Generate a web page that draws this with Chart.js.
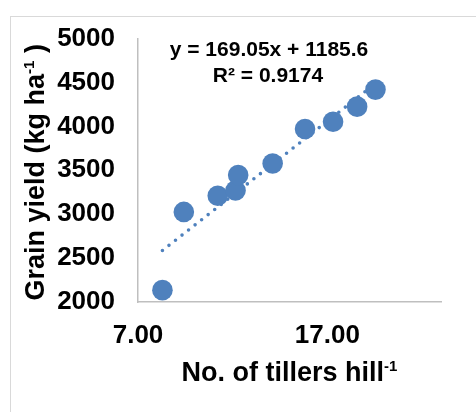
<!DOCTYPE html>
<html>
<head>
<meta charset="utf-8">
<script src="https://cdn.jsdelivr.net/npm/chart.js@4/dist/chart.umd.min.js"></script>
<style>
  html, body { margin: 0; padding: 0; background: #fff; }
  #wrap { width: 476px; height: 412px; position: relative; }
</style>
</head>
<body>
<div id="wrap"><canvas id="c" width="476" height="412"></canvas></div>
<script>
// ---- data ----
const tillers = [8.29, 9.42, 11.21, 12.15, 12.29, 14.11, 15.82, 17.30, 18.57, 19.54];
const grainYield = [2135, 3026, 3210, 3270, 3446, 3577, 3970, 4053, 4225, 4419];
const trendSlope = [169.05];
const trendIntercept = [1185.6];
const xTickValues = [7, 17];
const yTickValues = [2000, 2500, 3000, 3500, 4000, 4500, 5000];
const equationLines = ['y = 169.05x + 1185.6', 'R\u00B2 = 0.9174'];
const xTitleParts = ['No. of tillers hill', '-1', ''];
const yTitleParts = ['Grain yield (kg ha', '-1', ' )'];

const FONT = "'Liberation Sans', Arial, Helvetica, sans-serif";
const BLUE = '#4F81BD';

const points = tillers.map((x, i) => ({ x, y: grainYield[i] }));
const xMin = Math.min(...tillers), xMax = Math.max(...tillers);
const trend = [xMin, xMax].map(x => ({ x, y: trendSlope[0] * x + trendIntercept[0] }));

function drawSup(ctx, parts, cx, baseline, size, supSize, rise) {
  const [main, sup, tail] = parts;
  ctx.font = `bold ${size}px ${FONT}`;
  const w1 = ctx.measureText(main).width;
  const w3 = ctx.measureText(tail).width;
  ctx.font = `bold ${supSize}px ${FONT}`;
  const w2 = ctx.measureText(sup).width;
  let x = cx - (w1 + w2 + w3) / 2;
  ctx.textAlign = 'left';
  ctx.textBaseline = 'alphabetic';
  ctx.font = `bold ${size}px ${FONT}`;
  ctx.fillText(main, x, baseline);
  x += w1;
  ctx.font = `bold ${supSize}px ${FONT}`;
  ctx.fillText(sup, x, baseline - rise);
  x += w2;
  ctx.font = `bold ${size}px ${FONT}`;
  ctx.fillText(tail, x, baseline);
}

const decor = {
  id: 'decor',
  beforeDraw(chart) {
    const ctx = chart.ctx;
    ctx.save();
    ctx.fillStyle = '#fff';
    ctx.fillRect(0, 0, chart.width, chart.height);
    ctx.strokeStyle = '#d9d9d9';
    ctx.lineWidth = 1;
    ctx.strokeRect(10.5, 16.5, chart.width + 40, chart.height + 40);
    ctx.restore();
  },
  afterDraw(chart) {
    const { ctx, chartArea: a } = chart;
    ctx.save();
    ctx.fillStyle = '#000';
    // x axis title
    drawSup(ctx, xTitleParts, (a.left + a.right) / 2, 381, 27, 15, 10);
    // y axis title
    ctx.save();
    ctx.translate(44, (a.top + a.bottom) / 2 + 2);
    ctx.rotate(-Math.PI / 2);
    drawSup(ctx, yTitleParts, 0, 0, 27, 15, 10);
    ctx.restore();
    // trendline equation
    ctx.font = `bold 21px ${FONT}`;
    ctx.textAlign = 'center';
    ctx.textBaseline = 'alphabetic';
    ctx.fillText(equationLines[0], 269, 56);
    ctx.fillText(equationLines[1], 268, 82);
    ctx.restore();
  }
};

new Chart(document.getElementById('c'), {
  type: 'scatter',
  data: {
    datasets: [
      {
        label: 'Grain yield',
        data: points,
        backgroundColor: BLUE,
        borderColor: BLUE,
        borderWidth: 0,
        pointRadius: 10.3,
        pointHoverRadius: 10.3,
        order: 1
      },
      {
        label: 'Linear trend',
        data: trend,
        showLine: true,
        pointRadius: 0,
        borderColor: BLUE,
        borderWidth: 3.6,
        borderDash: [0, 8.3],
        borderCapStyle: 'round',
        fill: false,
        order: 2
      }
    ]
  },
  options: {
    responsive: false,
    animation: false,
    events: [],
    layout: { padding: { left: 0, top: 35, right: 35, bottom: 0 } },
    plugins: { legend: { display: false }, tooltip: { enabled: false } },
    scales: {
      x: {
        type: 'linear',
        min: 7,
        max: 23,
        afterFit(s) { s.height = 110; },
        afterBuildTicks(s) { s.ticks = xTickValues.map(v => ({ value: v })); },
        grid: { display: false, drawTicks: false, tickLength: 0 },
        border: { display: true, color: '#bfbfbf', width: 1.5 },
        ticks: {
          padding: 18,
          color: '#000',
          maxRotation: 0,
          autoSkip: false,
          font: { family: FONT, size: 26, weight: 'bold' },
          callback: v => Number(v).toFixed(2)
        }
      },
      y: {
        type: 'linear',
        min: 2000,
        max: 5000,
        afterFit(s) { s.width = 138; },
        afterBuildTicks(s) { s.ticks = yTickValues.map(v => ({ value: v })); },
        grid: { display: false, drawTicks: false, tickLength: 0 },
        border: { display: true, color: '#bfbfbf', width: 1.5 },
        ticks: {
          padding: 23,
          color: '#000',
          autoSkip: false,
          font: { family: FONT, size: 26, weight: 'bold' },
          callback: v => String(v)
        }
      }
    }
  },
  plugins: [decor]
});
</script>
</body>
</html>
